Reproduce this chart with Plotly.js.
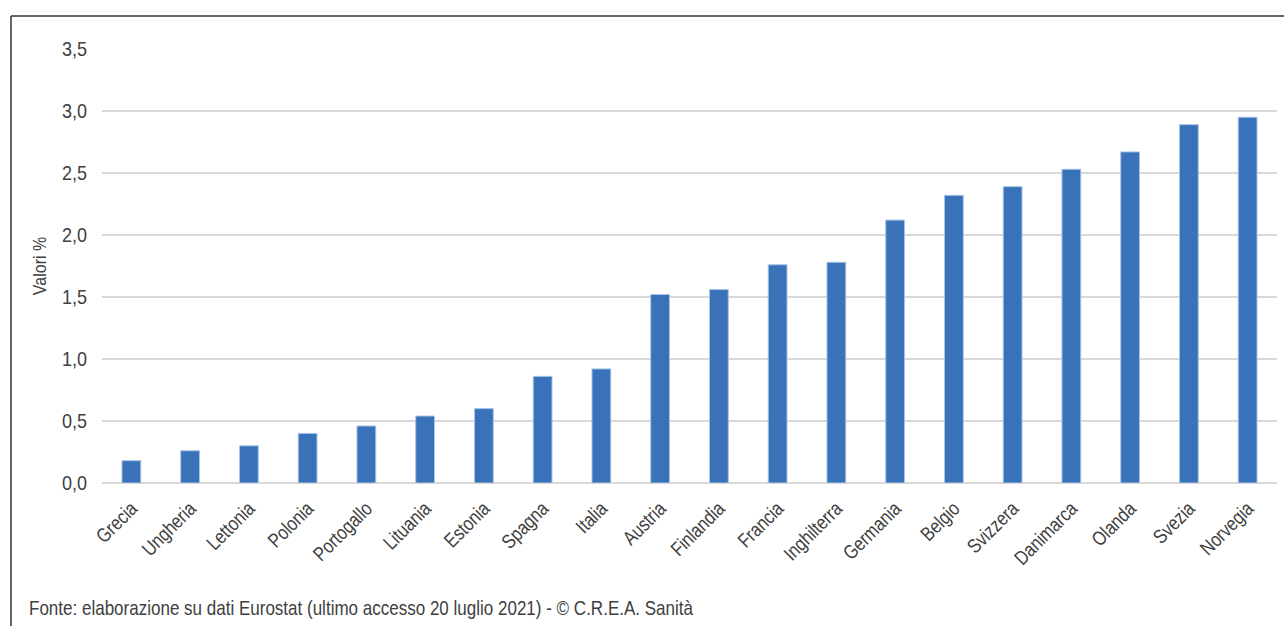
<!DOCTYPE html>
<html>
<head>
<meta charset="utf-8">
<script src="https://cdn.plot.ly/plotly-3.0.1.min.js"></script>
<style>
html,body{margin:0;padding:0;background:#fff;}
#chart{width:1284px;height:626px;}
</style>
</head>
<body>
<div id="chart"></div>
<script>
const categories = ["Grecia","Ungheria","Lettonia","Polonia","Portogallo","Lituania","Estonia","Spagna","Italia","Austria","Finlandia","Francia","Inghilterra","Germania","Belgio","Svizzera","Danimarca","Olanda","Svezia","Norvegia"];
const values = [0.18,0.26,0.30,0.40,0.46,0.54,0.60,0.86,0.92,1.52,1.56,1.76,1.78,2.12,2.32,2.39,2.53,2.67,2.89,2.95];
const yTicks = [0,0.5,1,1.5,2,2.5,3,3.5];
const yTitle = "Valori %";
const sourceNote = "Fonte: elaborazione su dati Eurostat (ultimo accesso 20 luglio 2021) - © C.R.E.A. Sanità";

const FONT = '"Liberation Sans", Arial, sans-serif';
const W = 1284, H = 626;
const L = 102, R = 7, T = 49, B = 143;
const pw = W - L - R, ph = H - T - B;
const px = x => (x - L) / pw;
const py = y => (H - B - y) / ph;

const trace = {
  type: 'bar',
  x: categories,
  y: values,
  marker: {color: '#3a72ba', line: {color: '#a9c4e6', width: 1}},
  hoverinfo: 'x+y'
};

const layout = {
  width: W, height: H,
  margin: {l: L, r: R, t: T, b: B, pad: 0},
  paper_bgcolor: '#fff', plot_bgcolor: '#fff',
  separators: ',.',
  bargap: 0.68,
  showlegend: false,
  font: {family: FONT, color: '#404040', size: 18},
  xaxis: {
    type: 'category',
    tickangle: -45,
    showgrid: false, zeroline: false, showline: false,
    ticks: '',
    ticklabelstandoff: 9,
    tickfont: {family: FONT, size: 20, color: '#404040'},
    automargin: false
  },
  yaxis: {
    range: [0, 3.5],
    tickvals: yTicks,
    tickformat: '.1f',
    showgrid: true, gridcolor: '#d9d9d9', gridwidth: 2,
    zeroline: true, zerolinecolor: '#d9d9d9', zerolinewidth: 2,
    showline: false, ticks: '',
    ticklabelstandoff: 14,
    tickfont: {family: FONT, size: 21, color: '#404040'},
    title: {text: yTitle, font: {family: FONT, size: 19, color: '#404040'}, standoff: 6},
    automargin: false
  },
  shapes: [
    {type: 'line', xref: 'paper', yref: 'paper', x0: px(11), x1: px(11), y0: py(16), y1: py(640), line: {color: '#333', width: 1.5}},
    {type: 'line', xref: 'paper', yref: 'paper', x0: px(11), x1: px(1300), y0: py(16), y1: py(16), line: {color: '#333', width: 1.5}}
  ],
  annotations: [
    {text: sourceNote, xref: 'paper', yref: 'paper', x: px(27), y: py(607), xanchor: 'left', yanchor: 'middle', showarrow: false, font: {family: FONT, size: 21, color: '#404040'}}
  ]
};

// Condense glyphs horizontally to imitate the narrow typeface of the original
function condense(sel, f, shiftLeft) {
  document.querySelectorAll(sel).forEach(t => {
    const w = t.getComputedTextLength();
    if (!w) return;
    t.setAttribute('lengthAdjust', 'spacingAndGlyphs');
    t.setAttribute('textLength', (w * f).toFixed(2));
    if (shiftLeft) {
      const x = parseFloat(t.getAttribute('x') || '0');
      t.setAttribute('x', (x - (1 - f) * w / 2).toFixed(2));
    }
  });
}

Plotly.newPlot('chart', [trace], layout, {displayModeBar: false, staticPlot: true}).then(() => {
  condense('#chart .ytick text', 0.86, false);
  condense('#chart .xtick text', 0.82, false);
  condense('#chart .ytitle', 0.84, false);
  condense('#chart .annotation-text', 0.81, true);
});
</script>
</body>
</html>
